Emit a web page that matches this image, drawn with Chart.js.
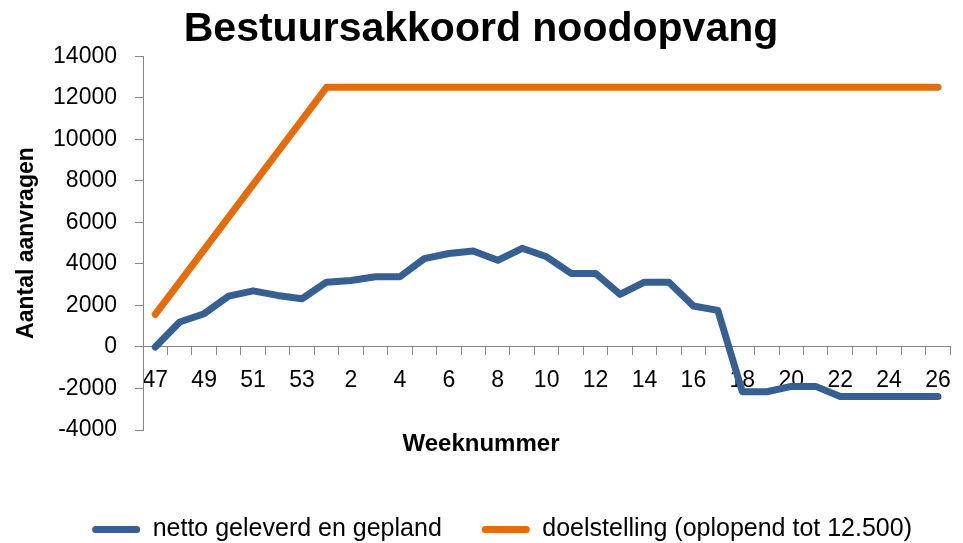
<!DOCTYPE html>
<html>
<head>
<meta charset="utf-8">
<script src="https://cdn.jsdelivr.net/npm/chart.js@4.4.1/dist/chart.umd.min.js"></script>
<style>
  html, body { margin: 0; padding: 0; background: #ffffff; }
  canvas { display: block; }
</style>
</head>
<body>
<canvas id="c" width="963" height="543"></canvas>
<script>
// Categories: week numbers
const weeks = ['47','48','49','50','51','52','53','1','2','3','4','5','6','7','8','9','10',
               '11','12','13','14','15','16','17','18','19','20','21','22','23','24','25','26'];

// Series: netto geleverd en gepland
const netto = [0, 1200, 1600, 2450, 2700, 2480, 2320, 3120, 3200, 3380, 3380, 4250, 4500, 4620,
               4170, 4750, 4340, 3540, 3540, 2530, 3120, 3120, 1970, 1760, -2160, -2160, -1900,
               -1900, -2390, -2390, -2390, -2390, -2390];

// Series: doelstelling (oplopend tot 12.500)
const doel = [1563, 3125, 4688, 6250, 7813, 9375, 10938, 12500, 12500, 12500, 12500, 12500, 12500,
              12500, 12500, 12500, 12500, 12500, 12500, 12500, 12500, 12500, 12500, 12500, 12500,
              12500, 12500, 12500, 12500, 12500, 12500, 12500, 12500];

const seriesNames = ['netto geleverd en gepland', 'doelstelling (oplopend tot 12.500)'];
const titleText = 'Bestuursakkoord noodopvang';
const yTitle = 'Aantal aanvragen';
const xTitle = 'Weeknummer';
const yMin = -4000, yMax = 14000, yStep = 2000;

const FONT = "'Liberation Sans', Arial, sans-serif";
const AXIS = '#868686';
const BLUE = '#376092';
const ORANGE = '#E46C0A';

new Chart(document.getElementById('c'), {
  type: 'line',
  data: {
    labels: weeks,
    datasets: [
      {
        label: seriesNames[0], data: netto,
        borderColor: BLUE, backgroundColor: BLUE, borderWidth: 7,
        pointRadius: 0, tension: 0, borderJoinStyle: 'round', borderCapStyle: 'round'
      },
      {
        label: seriesNames[1], data: doel,
        borderColor: ORANGE, backgroundColor: ORANGE, borderWidth: 7,
        pointRadius: 0, tension: 0, borderJoinStyle: 'round', borderCapStyle: 'round'
      }
    ]
  },
  options: {
    responsive: false,
    animation: false,
    devicePixelRatio: 1,
    layout: { padding: { left: 10, right: 11, top: 0, bottom: -9 } },
    plugins: {
      tooltip: { enabled: false },
      title: {
        display: true, text: titleText, color: '#000',
        font: { family: FONT, size: 41, weight: 'bold', lineHeight: 1.2 },
        padding: { top: 5, bottom: 2 }
      },
      subtitle: {
        display: true, text: xTitle, position: 'bottom', weight: 500, color: '#000',
        font: { family: FONT, size: 24, weight: 'bold', lineHeight: 1 },
        padding: { top: 2, bottom: 21 }
      },
      legend: {
        position: 'bottom',
        align: 'end',
        labels: {
          color: '#000',
          font: { family: FONT, size: 25 },
          boxWidth: 48, boxHeight: 7, padding: 40,
          useBorderRadius: true, borderRadius: 3.5,
          generateLabels: (chart) =>
            Chart.defaults.plugins.legend.labels.generateLabels(chart).map(l => ({ ...l, lineWidth: 0 }))
        }
      }
    },
    scales: {
      x: {
        type: 'category',
        position: { y: 0 },
        offset: true,
        grid: { display: true, drawOnChartArea: false, drawTicks: true, tickLength: 8, color: AXIS, offset: true },
        border: { display: true, color: AXIS, width: 1 },
        ticks: {
          autoSkip: false, maxRotation: 0, minRotation: 0, padding: 12,
          color: '#000', font: { family: FONT, size: 23 },
          callback: (value, index) => (index % 2 === 0 ? weeks[index] : '')
        }
      },
      y: {
        min: yMin, max: yMax,
        afterFit: (scale) => { scale.width = 133; },
        grid: { display: true, drawOnChartArea: false, drawTicks: true, tickLength: 8, color: AXIS },
        border: { display: true, color: AXIS, width: 1 },
        ticks: {
          stepSize: yStep, padding: 18, color: '#000',
          font: { family: FONT, size: 23 },
          callback: (v) => String(v)
        },
        title: {
          display: true, text: yTitle, color: '#000',
          font: { family: FONT, size: 23, weight: 'bold', lineHeight: 1.2 },
          padding: { top: 3.2, bottom: 0 }
        }
      }
    }
  }
});
</script>
</body>
</html>
